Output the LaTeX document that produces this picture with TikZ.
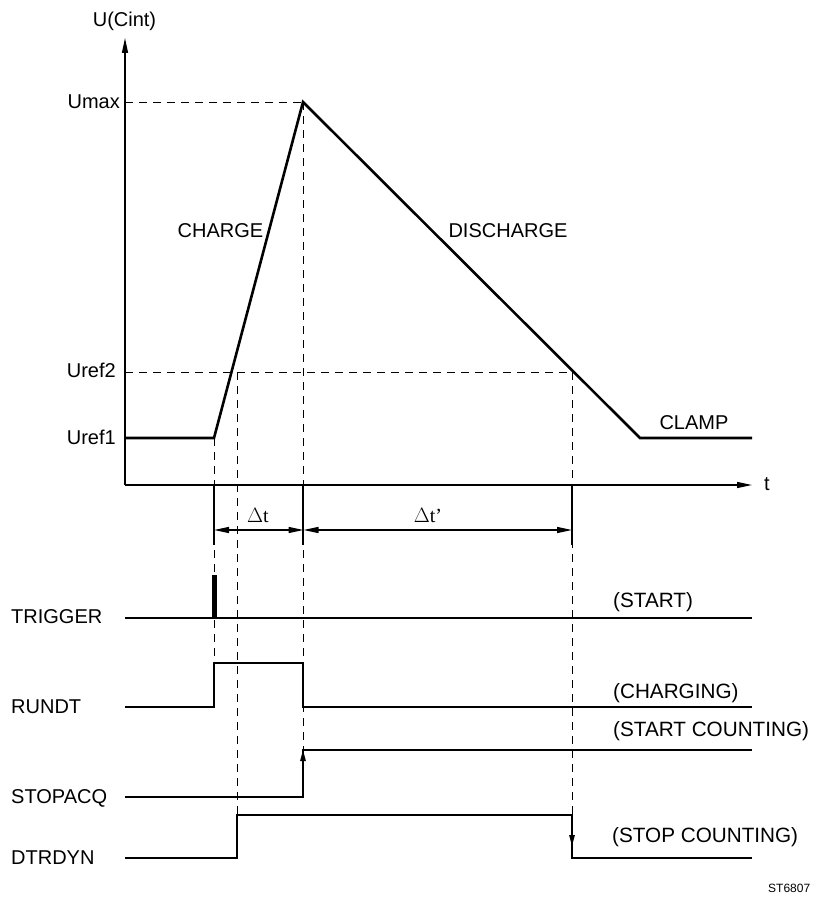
\documentclass[tikz,border=0pt]{standalone}
\usepackage{fontspec}
\setmainfont{Liberation Sans}
\newfontfamily\seriffont{Liberation Serif}
\usetikzlibrary{arrows.meta}
\begin{document}
\begin{tikzpicture}[x=1pt,y=-1pt,
  lbl/.style={font=\fontsize{20}{24}\selectfont, inner sep=0pt, anchor=base},
  lbll/.style={lbl, anchor=base west},
  lblr/.style={lbl, anchor=base east},
  plbl/.style={lbll, font=\fontsize{20.7}{24}\selectfont},
  axis/.style={line width=1.3pt},
  wave/.style={line width=2.6pt, line join=miter},
  sig/.style={line width=2.6pt, line join=miter},
  dashln/.style={line width=1pt, dash pattern=on 8pt off 6pt},
  extln/.style={line width=1.3pt},
  bigtip/.style={-{Triangle[length=15pt,width=6pt]}},
  dimtip/.style={{Triangle[length=15pt,width=6pt]}-{Triangle[length=15pt,width=6pt]}},
  smalltip/.style={-{Triangle[length=11pt,width=5.5pt]}}
]
\useasboundingbox (0,0) rectangle (812,907);

% coordinates
\coordinate (O) at (125,485);
\coordinate (Ytop) at (125,38);
\coordinate (Xend) at (752,485);
\coordinate (A) at (125,438);
\coordinate (B) at (214,438);
\coordinate (C) at (303,102);
\coordinate (D) at (640,438);
\coordinate (E) at (752,438);
\coordinate (UmaxL) at (125,102);
\coordinate (Uref2L) at (125,372);
\coordinate (Uref2R) at (572,372);
\coordinate (X237top) at (237,372);

% dashed guides
\draw[dashln] (UmaxL) -- (C);
\draw[dashln] (Uref2L) -- (Uref2R);
\draw[dashln] (B) -- (214,663);
\draw[dashln] (X237top) -- (237,815);
\draw[dashln] (C) -- (303,750);
\draw[dashln] (Uref2R) -- (572,815);

% extension lines
\coordinate (e1t) at (214,485); \coordinate (e1b) at (214,545);
\coordinate (e2t) at (303,485); \coordinate (e2b) at (303,545);
\coordinate (e3t) at (572,485); \coordinate (e3b) at (572,545);
\draw[extln] (e1t) -- (e1b);
\draw[extln] (e2t) -- (e2b);
\draw[extln] (e3t) -- (e3b);

% dimension arrows
\coordinate (d1) at (214,530); \coordinate (d2) at (303.5,530); \coordinate (d3) at (572,530);
\draw[line width=1.3pt, dimtip] (d1) -- (d2);
\draw[line width=1.3pt, dimtip] (d2) -- (d3);
\node[lbl, font=\seriffont\fontsize{20}{24}\selectfont] (dt) at (258,522) {$\Delta$t};
\node[lbl, font=\seriffont\fontsize{20}{24}\selectfont] (dtp) at (428,522) {$\Delta$t’};

% axes
\draw[axis, bigtip] (O) -- (Ytop);
\draw[axis, bigtip] (O) -- (Xend);

% waveform
\draw[wave] (A) -- (B) -- (C) -- (D) -- (E);

% axis labels
\node[lbl] (ulab) at (124.5,27) {U(Cint)};
\node[lbl] (tlab) at (767,490) {t};
\node[lblr] (umax) at (120,108) {Umax};
\node[lblr] (uref2) at (116,377) {Uref2};
\node[lblr] (uref1) at (116,444) {Uref1};
\node[lbl] (charge) at (220.5,237) {CHARGE};
\node[lbl] (discharge) at (508,237) {DISCHARGE};
\node[lbl] (clamp) at (694,429) {CLAMP};

% signals
\coordinate (T0) at (125,618); \coordinate (T1) at (752,618);
\draw[sig] (T0) -- (T1);
\fill (212,575) rectangle (216.5,618);

\coordinate (R0) at (125,707); \coordinate (R1) at (214,663); \coordinate (R2) at (303,707); \coordinate (R3) at (752,707);
\draw[sig] (R0) -| (R1) -| (R2) -- (R3);

\coordinate (S0) at (125,797); \coordinate (S1) at (303,750); \coordinate (S2) at (752,750);
\draw[sig] (S0) -| (S1) -- (S2);
\coordinate (Sa) at (303,775); \coordinate (Sb) at (303,750);
\draw[line width=1.3pt, smalltip] (Sa) -- (Sb);

\coordinate (D0) at (125,858); \coordinate (D1) at (237,815); \coordinate (D2) at (572,858); \coordinate (D3) at (752,858);
\draw[sig] (D0) -| (D1) -| (D2) -- (D3);
\coordinate (Da) at (572,818); \coordinate (Db) at (572,846);
\draw[line width=1.3pt, smalltip] (Da) -- (Db);

% signal labels
\node[lbll] (trig) at (11,623) {TRIGGER};
\node[lbll] (rundt) at (11,713) {RUNDT};
\node[lbll] (stopacq) at (11,803) {STOPACQ};
\node[lbll] (dtrdyn) at (11,864) {DTRDYN};

\node[plbl] (start) at (613,607) {(START)};
\node[plbl] (charging) at (613,698) {(CHARGING)};
\node[plbl] (startc) at (613,736) {(START COUNTING)};
\node[plbl] (stopc) at (612,842) {(STOP COUNTING)};
\node[lbll, font=\fontsize{12}{14}\selectfont] (st) at (768,892) {ST6807};
\end{tikzpicture}
\end{document}
